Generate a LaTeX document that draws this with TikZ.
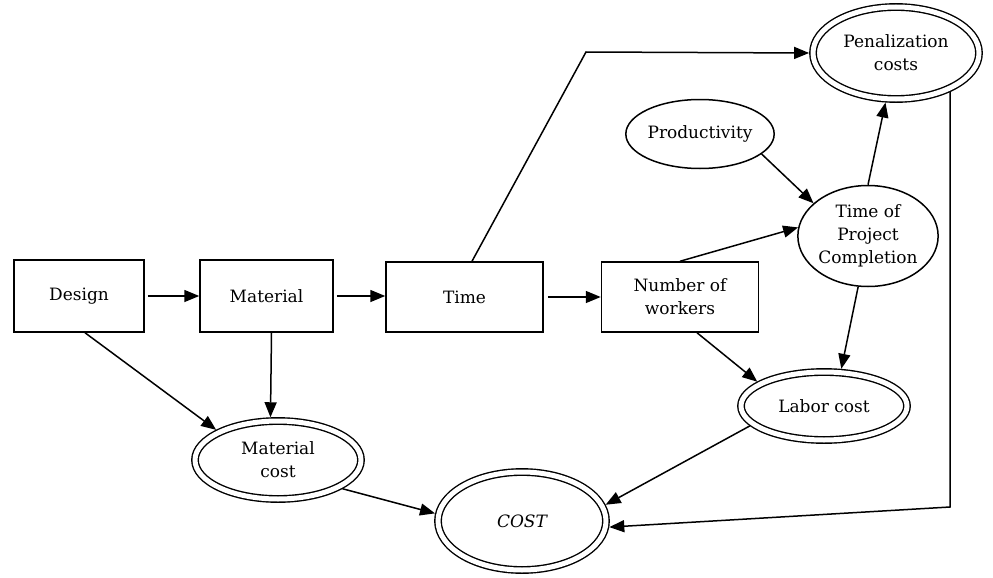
\documentclass[tikz,border=0pt]{standalone}
\usepackage{fontspec}
\setmainfont{DejaVu Serif}
\usetikzlibrary{shapes.geometric,arrows.meta}
\begin{document}
\begin{tikzpicture}[x=1pt,y=-1pt,
  every node/.style={font=\fontsize{17}{23}\selectfont, align=center, inner sep=0pt},
  box/.style={draw, rectangle, line width=1.5pt},
  oval/.style={draw, ellipse, line width=1.5pt},
  dbl/.style={draw, ellipse, double, double distance=5pt, line width=1.4pt, outer sep=3.9pt},
  arr/.style={line width=1.5pt, -{Triangle[length=15pt,width=12pt]}},
]
\useasboundingbox (0,0) rectangle (993,578);

% rectangles
\node[box, minimum width=130pt, minimum height=72pt] (design) at (79,296) {Design};
\node[box, minimum width=133pt, minimum height=72pt] (material) at (266.5,296) {Material};
\node[box, minimum width=157pt, minimum height=70pt] (time) at (464.5,297) {Time};
\node[box, minimum width=157pt, minimum height=70pt] (workers) at (680,297) {Number of\\workers};

% single ellipses
\node[oval, minimum width=137pt, minimum height=69pt] (prod) at (700,134) {Productivity};
\node[oval, minimum width=137pt, minimum height=101pt] (tpc) at (868,236) {Time of\\Project\\Completion};

% double ellipses
\node[dbl, minimum width=166pt, minimum height=92pt] (penal) at (896,53) {Penalization\\costs};
\node[dbl, minimum width=166pt, minimum height=68pt] (labor) at (824,406) {Labor cost};
\node[dbl, minimum width=166pt, minimum height=78pt] (matcost) at (278,460) {Material\\cost};
\node[dbl, minimum width=168pt, minimum height=98pt] (cost) at (522,521) {\itshape COST};

\coordinate (bend) at (586,52);
\coordinate (corner) at (950,507);

% connectors
\draw[arr, shorten <=3pt] (design.east) -- (design.east -| material.west);
\draw[arr, shorten <=3pt] (material.east) -- (material.east -| time.west);
\draw[arr, shorten <=4pt] (time.east) -- (time.east -| workers.west);
\draw[arr] ([xshift=7.5pt]time.north) -- (bend) -- (penal.west);
\draw[arr] (workers.north) -- (tpc.173);
\draw[arr] (prod.-18) -- (tpc.149);
\draw[arr] (tpc.north) -- (penal.-102);
\draw[arr] (corner |- penal.-36) -- (corner) -- (cost.-4);
\draw[arr] ([xshift=17pt]workers.south) -- (labor.160);
\draw[arr] (tpc.-101) -- (labor.65);
\draw[arr] (labor.195) -- (cost.11);
\draw[arr] ([xshift=6pt]design.south) -- (matcost.154);
\draw[arr] ([xshift=5pt]material.south) -- (matcost.100);
\draw[arr] (matcost.-24) -- (cost.175);
\end{tikzpicture}
\end{document}
